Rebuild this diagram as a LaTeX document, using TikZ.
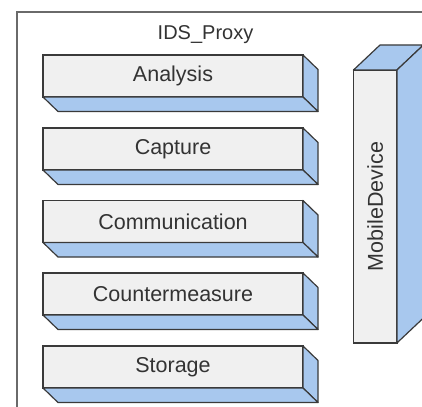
\documentclass[tikz,border=0pt]{standalone}
\usepackage{fontspec}
\setmainfont{Liberation Sans}
\definecolor{linec}{HTML}{3A3A3A}
\definecolor{framec}{HTML}{6A6A6A}
\definecolor{frontc}{HTML}{F0F0F0}
\definecolor{sidec}{HTML}{A8C8EE}
\definecolor{textc}{HTML}{333333}
\begin{document}
\begin{tikzpicture}[x=1pt,y=-1pt,
  module/.style={draw=linec, line width=1.2pt, fill=frontc, inner sep=0pt, outer sep=0pt,
    text=textc, font=\fontsize{21.5}{24}\selectfont, anchor=north west},
  leftmod/.style={module, minimum width=260pt, minimum height=42pt},
  face/.style={draw=linec, line width=1.2pt, fill=sidec, line join=round},
  titlestyle/.style={text=textc, font=\fontsize{20}{24}\selectfont, inner sep=0pt}]
\useasboundingbox (0,0) rectangle (422,406);
\clip (0,0) rectangle (422,406);
\fill[white] (0,0) rectangle (422,406);
\draw[framec, line width=1.5pt] (17,12) rectangle (445,430);
\node[titlestyle, anchor=base] (title) at (205.5,39.5) {IDS\_Proxy};
\foreach \nm/\txt/\yy in {ana/Analysis/55, cap/Capture/128, com/Communication/200.5, cnt/Countermeasure/273, sto/Storage/346}{
  \node[leftmod] (\nm) at (43,\yy) {\txt};
  \draw[face] (\nm.north east) -- ++(15,14.5) -- ([shift={(15,14.5)}]\nm.south east) -- (\nm.south east) -- cycle;
  \draw[face] (\nm.south west) -- (\nm.south east) -- ++(15,14.5) -- ([shift={(15,14.5)}]\nm.south west) -- cycle;
}
\node[module, minimum width=43.4pt, minimum height=273pt] (mob) at (353.5,70) {\rotatebox{90}{MobileDevice}};
\draw[face] (mob.north west) -- ++(26.5,-25) -- ([shift={(26.5,-25)}]mob.north east) -- (mob.north east) -- cycle;
\draw[face] (mob.north east) -- ++(26.5,-25) -- ([shift={(26.5,-25)}]mob.south east) -- (mob.south east) -- cycle;
\end{tikzpicture}
\end{document}
